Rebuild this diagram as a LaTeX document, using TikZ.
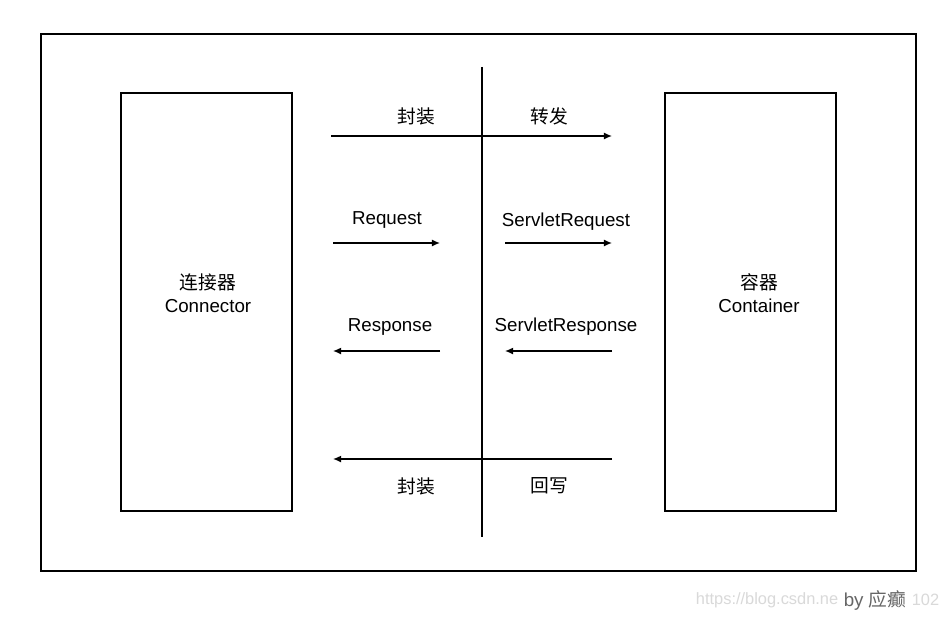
\documentclass[tikz,border=0pt]{standalone}
\usepackage{fontspec}
\usetikzlibrary{arrows.meta}
\setmainfont{Liberation Sans}
\newfontfamily\cjk{Noto Sans CJK SC}
\begin{document}
\begin{tikzpicture}[x=0.03cm,y=-0.03cm,
  box/.style={draw,line width=1.1pt},
  arr/.style={-{Latex[length=7pt,width=6pt]},line width=1.1pt},
  lab/.style={font=\fontsize{16}{18}\selectfont}]
\useasboundingbox[fill=white] (0,0) rectangle (945,618);
\draw[line width=1.1pt] (41,34) rectangle (916,571);
\node[box,minimum width=171*0.03cm,minimum height=418*0.03cm] (L) at (206.5,302) {};
\node[box,minimum width=171*0.03cm,minimum height=418*0.03cm] (R) at (750.5,302) {};
\node[lab,align=center] (lt) at (208,293) {{\cjk 连接器}\\[2pt]Connector};
\node[lab,align=center] (rt) at (759,293) {{\cjk 容器}\\[2pt]Container};
\coordinate (vt) at (482,67); \coordinate (vb) at (482,537);
\draw[line width=1.1pt] (vt) -- (vb);
\coordinate (a1) at (331,136); \coordinate (a2) at (612,136);
\coordinate (b1) at (333,243); \coordinate (b2) at (440,243);
\coordinate (c1) at (505,243); \coordinate (c2) at (612,243);
\coordinate (d1) at (440,351); \coordinate (d2) at (333,351);
\coordinate (e1) at (612,351); \coordinate (e2) at (505,351);
\coordinate (f1) at (612,459); \coordinate (f2) at (333,459);
\draw[arr] (a1) -- (a2);
\draw[arr] (b1) -- (b2);
\draw[arr] (c1) -- (c2);
\draw[arr] (d1) -- (d2);
\draw[arr] (e1) -- (e2);
\draw[arr] (f1) -- (f2);
\node[lab] (t1) at (416,116) {\cjk 封装};
\node[lab] (t2) at (549,116) {\cjk 转发};
\node[lab] (t3) at (387,220) {Request};
\node[lab] (t4) at (566,222) {ServletRequest};
\node[lab] (t5) at (390,327) {Response};
\node[lab] (t6) at (566,327) {ServletResponse};
\node[lab] (t7) at (416,486) {\cjk 封装};
\node[lab] (t8) at (549,486) {\cjk 回写};
\node[font=\fontsize{16}{18}\selectfont,text=black!60] (by) at (875,600) {by {\cjk 应癫}};
\node[font=\fontsize{14}{16}\selectfont,text=black!15,anchor=east,inner xsep=0pt] (w) at ([xshift=-1pt]by.west) {https://blog.csdn.ne};
\node[font=\fontsize{14}{16}\selectfont,text=black!15,anchor=west,inner xsep=0pt] (w2) at ([xshift=1pt]by.east) {102};
\end{tikzpicture}
\end{document}
